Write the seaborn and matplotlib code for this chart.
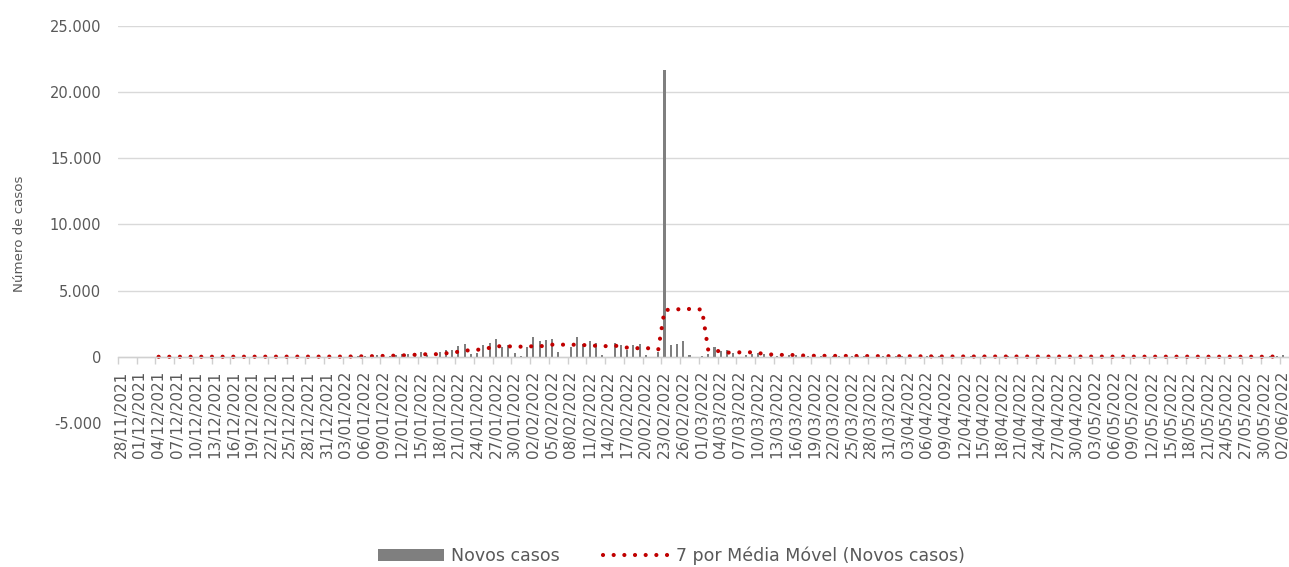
import numpy as np
import pandas as pd
import matplotlib
matplotlib.use("Agg")
import matplotlib.pyplot as plt
import seaborn as sns
from matplotlib.ticker import FuncFormatter, FixedLocator

# dias de 28/11/2021 a 02/06/2022
start_date = "2021-11-28"
end_date = "2022-06-02"
dates = pd.date_range(start_date, end_date, freq="D")
date_labels = list(dates.strftime("%d/%m/%Y"))

# novos casos por dia, uma semana (dom-sáb) por linha
novos_casos = [
    0, 5, 8, 6, 4, 7, 3,
    2, 0, 6, 9, 5, 8, 4,
    3, 0, 7, 10, 8, 12, 6,
    5, 0, 12, 15, 10, 8, 4,
    6, 0, 18, 22, 25, 20, 10,
    30, 0, 60, 90, 50, 100, 110,
    80, 60, 150, 200, 220, 260, 350,
    120, 0, 400, 530, 480, 830, 980,
    200, 280, 900, 1080, 1360, 780, 900,
    280, 80, 780, 1535, 1160, 1280, 1330,
    330, 0, 780, 1535, 960, 1210, 1030,
    150, 0, 1080, 900, 530, 900, 980,
    150, 0, 400, 21700, 900, 980, 1160,
    150, 0, 80, 250, 730, 475, 530,
    300, 0, 150, 200, 280, 180, 150,
    60, 0, 120, 110, 90, 100, 80,
    40, 0, 80, 70, 60, 75, 50,
    30, 0, 55, 50, 45, 40, 35,
    20, 0, 40, 35, 30, 38, 25,
    15, 0, 30, 28, 25, 30, 20,
    12, 0, 28, 25, 22, 24, 18,
    10, 0, 25, 22, 20, 18, 15,
    8, 0, 20, 18, 16, 20, 12,
    6, 0, 18, 15, 14, 16, 10,
    5, 0, 15, 14, 12, 15, 10,
    5, 0, 14, 12, 10, 12, 8,
    4, 0, 60, 90, 160,
]

y_ticks = [-5000, 0, 5000, 10000, 15000, 20000, 25000]

df = pd.DataFrame({
    "dia": np.arange(len(dates)),
    "data": date_labels,
    "novos": novos_casos,
})
df["media_movel"] = df["novos"].rolling(7).mean()

sns.set_theme(style="white")
plt.rcParams["font.family"] = ["DejaVu Sans"]

text_color = "#595959"
grid_color = "#d9d9d9"

fig = plt.figure(figsize=(12.89, 5.67), dpi=100)
ax = fig.add_axes([118 / 1289, 1 - 423 / 567, 1 - 118 / 1289, (423 - 26) / 567])

sns.barplot(data=df, x="dia", y="novos", color="#7f7f7f", saturation=1,
            width=0.33, linewidth=0, ax=ax, label="Novos casos")
sns.lineplot(data=df, x="dia", y="media_movel", color="#c00000", lw=3.0,
             linestyle=(0, (0.01, 2.55)), dash_capstyle="round", ax=ax,
             label="7 por Média Móvel (Novos casos)")

ax.set_ylim(-5000, 25000)
ax.set_xlim(-0.5, len(dates) - 0.02)
ax.yaxis.set_major_locator(FixedLocator(y_ticks))
ax.yaxis.set_major_formatter(FuncFormatter(lambda v, p: f"{v:,.0f}".replace(",", ".")))
ax.yaxis.grid(True, color=grid_color, lw=1)
ax.set_axisbelow(True)

for s in ["top", "right", "left"]:
    ax.spines[s].set_visible(False)
ax.spines["bottom"].set_position(("data", 0))
ax.spines["bottom"].set_color("#d0d0d0")
ax.spines["bottom"].set_linewidth(1)

tick_pos = list(range(0, len(dates), 3))
ax.set_xticks(tick_pos)
ax.set_xticklabels([date_labels[i] for i in tick_pos], rotation=90)
ax.set_xticks([p - 0.5 for p in tick_pos], minor=True)
ax.tick_params(axis="x", which="major", length=0, pad=10, labelsize=11, labelcolor=text_color)
ax.tick_params(axis="x", which="minor", length=5, width=1, color="#d0d0d0", direction="out", bottom=True)
ax.tick_params(axis="y", length=0, pad=12, labelsize=10.5, labelcolor=text_color)

ax.set_xlabel("")
ax.set_ylabel("Número de casos", color=text_color, fontsize=9.6)
ax.yaxis.set_label_coords((26 - 118) / 1171, (423 - 234) / 397)

handles, labels = ax.get_legend_handles_labels()
order = [labels.index("Novos casos"), labels.index("7 por Média Móvel (Novos casos)")]
if ax.get_legend() is not None:
    ax.get_legend().remove()
fig.legend([handles[i] for i in order], [labels[i] for i in order],
           loc="center", bbox_to_anchor=(0.521, 1 - 556 / 567),
           ncol=2, frameon=False, fontsize=12.5, handlelength=3.8,
           handletextpad=0.42, columnspacing=2.5, labelcolor=text_color)

fig.savefig("out.png", dpi=100)
